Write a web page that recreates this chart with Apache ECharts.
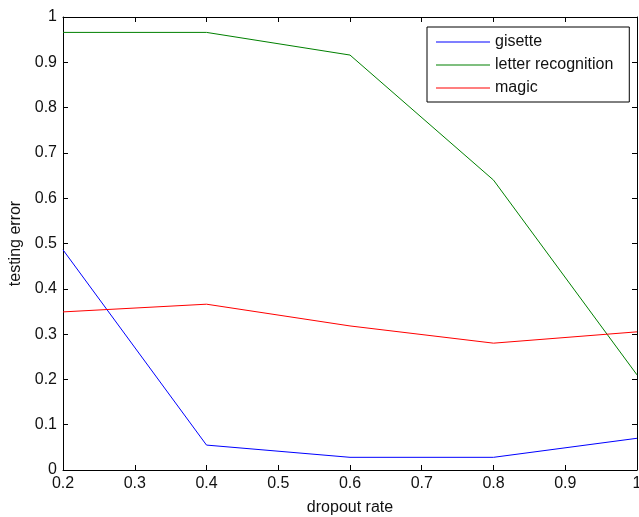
<!DOCTYPE html>
<html>
<head>
<meta charset="utf-8">
<script src="https://cdn.jsdelivr.net/npm/echarts@6/dist/echarts.min.js"></script>
<style>
  html, body { margin: 0; padding: 0; background: #fff; }
  #chart { width: 639px; height: 517px; }
</style>
</head>
<body>
<div id="chart"></div>
<script>
// dropout rates on the x axis
const dropoutRates = [0.2, 0.4, 0.6, 0.8, 1.0]
// testing error per dataset
const gisette = [0.486, 0.055, 0.028, 0.028, 0.07]
const letterRecognition = [0.966, 0.966, 0.916, 0.64, 0.21]
const magic = [0.349, 0.366, 0.318, 0.28, 0.305]

const seriesNames = ['gisette', 'letter recognition', 'magic']
const seriesColors = ['#0000ff', '#008000', '#ff0000']
const seriesValues = [gisette, letterRecognition, magic]

const font = 'Liberation Sans, Arial, sans-serif'

const chart = echarts.init(document.getElementById('chart'))

const fmt = v => String(Math.round(v * 10) / 10)

const baseAxis = {
  axisLine: { show: true, onZero: false, lineStyle: { color: '#000', width: 1 } },
  axisTick: { show: true, inside: true, length: 5, lineStyle: { color: '#000' } },
  splitLine: { show: false }
}

const option = {
  animation: false,
  backgroundColor: '#fff',
  textStyle: { fontFamily: font },
  grid: { left: 63, top: 17, right: 2, bottom: 47, outerBoundsMode: 'none' },
  legend: {
    orient: 'vertical',
    left: 427,
    top: 27,
    padding: [7, 16, 6, 9],
    itemGap: 7,
    icon: 'rect',
    itemWidth: 54,
    itemHeight: 1,
    backgroundColor: '#fff',
    borderColor: '#000',
    borderWidth: 1,
    borderRadius: 0,
    textStyle: { fontSize: 16, lineHeight: 16, color: '#111', fontFamily: font },
    data: seriesNames
  },
  xAxis: [
    Object.assign({}, baseAxis, {
      type: 'value', min: 0.2, max: 1, interval: 0.1,
      name: 'dropout rate', nameLocation: 'middle', nameGap: 30,
      nameTextStyle: { fontSize: 16, color: '#111', fontFamily: font },
      axisLabel: { fontSize: 16, color: '#111', margin: 6, formatter: fmt }
    }),
    Object.assign({}, baseAxis, {
      type: 'value', position: 'top', min: 0.2, max: 1, interval: 0.1,
      axisLabel: { show: false }
    })
  ],
  yAxis: [
    Object.assign({}, baseAxis, {
      type: 'value', min: 0, max: 1, interval: 0.1,
      name: 'testing error', nameLocation: 'middle', nameGap: 37,
      nameTextStyle: { fontSize: 16, color: '#111', fontFamily: font },
      axisLabel: { fontSize: 16, color: '#111', margin: 6, formatter: fmt }
    }),
    Object.assign({}, baseAxis, {
      type: 'value', position: 'right', min: 0, max: 1, interval: 0.1,
      axisLabel: { show: false }
    })
  ],
  series: seriesNames.map((name, i) => ({
    name: name,
    type: 'line',
    symbol: 'none',
    color: seriesColors[i],
    lineStyle: { width: 1, color: seriesColors[i] },
    data: dropoutRates.map((x, j) => [x, seriesValues[i][j]])
  }))
}

chart.setOption(option)
</script>
</body>
</html>
